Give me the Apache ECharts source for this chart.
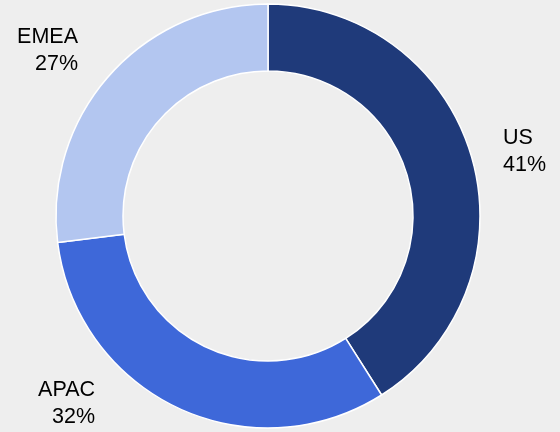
<!DOCTYPE html>
<html>
<head>
<meta charset="utf-8">
<script src="https://cdn.jsdelivr.net/npm/echarts@6/dist/echarts.min.js"></script>
<style>
  html, body { margin: 0; padding: 0; background: #eeeeee; }
  #chart { width: 560px; height: 432px; }
</style>
</head>
<body>
<div id="chart"></div>
<script>
// Regional share of revenue
const regions = ['US', 'APAC', 'EMEA'];
const shares = [41, 32, 27];
const colors = ['#1f3a7a', '#3e68d9', '#b3c6f0'];

// Label anchor per region: [x, y, align]
const labelAnchors = [
  [503, 152, 'left'],
  [95, 404, 'right'],
  [78, 51, 'right']
];

const chart = echarts.init(document.getElementById('chart'), null, { renderer: 'canvas' });

chart.setOption({
  backgroundColor: '#eeeeee',
  animation: false,
  series: [{
    type: 'pie',
    center: [268, 216],
    radius: [145, 212],
    startAngle: 90,
    clockwise: true,
    data: regions.map((name, i) => ({
      name: name,
      value: shares[i],
      itemStyle: { color: colors[i] }
    })),
    itemStyle: { borderColor: '#ffffff', borderWidth: 1.5 },
    label: {
      show: true,
      position: 'outside',
      formatter: '{b}\n{d}%',
      fontFamily: 'Liberation Sans, Arial, sans-serif',
      fontSize: 21.5,
      lineHeight: 27,
      color: '#000000',
      overflow: 'none'
    },
    labelLine: { show: false },
    labelLayout: function (params) {
      const a = labelAnchors[params.dataIndex];
      return { x: a[0], y: a[1], align: a[2], verticalAlign: 'middle' };
    },
    emphasis: { disabled: true }
  }]
});
</script>
</body>
</html>
